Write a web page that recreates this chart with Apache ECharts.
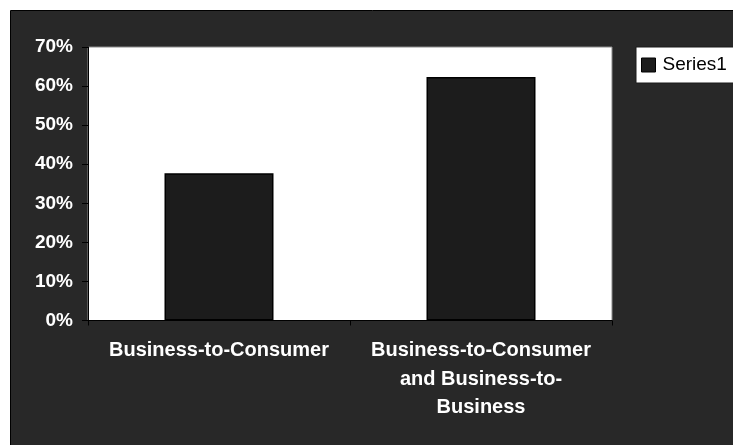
<!DOCTYPE html>
<html>
<head>
<meta charset="utf-8">
<script src="https://cdn.jsdelivr.net/npm/echarts@6/dist/echarts.min.js"></script>
<style>
  html, body { margin: 0; padding: 0; background: #ffffff; }
  #chart { width: 733px; height: 445px; }
</style>
</head>
<body>
<div id="chart"></div>
<script>
// Data
var categories = ['Business-to-Consumer', 'Business-to-Consumer and Business-to-Business'];
var categoryLabels = ['Business-to-Consumer', 'Business-to-Consumer\nand Business-to-\nBusiness'];
var seriesName = 'Series1';
var seriesValues = [37.7, 62.3];
var yTickLabels = ['0%', '10%', '20%', '30%', '40%', '50%', '60%', '70%'];

var chart = echarts.init(document.getElementById('chart'), null, { renderer: 'canvas' });

var option = {
  backgroundColor: '#ffffff',
  animation: false,
  graphic: [{
    type: 'rect',
    z: -10,
    silent: true,
    shape: { x: 10.5, y: 10.5, width: 740, height: 460 },
    style: { fill: '#282828', stroke: '#000000', lineWidth: 1 }
  }],
  legend: {
    show: true,
    left: 636,
    top: 47,
    orient: 'vertical',
    backgroundColor: '#ffffff',
    borderColor: '#1a1a1a',
    borderWidth: 1,
    padding: [8, 20, 8, 5],
    itemWidth: 14,
    itemHeight: 14,
    icon: 'rect',
    textStyle: { color: '#000000', fontFamily: 'Liberation Sans, Arial, sans-serif', fontSize: 19, lineHeight: 20, padding: [0, 0, 0, 2] },
    itemStyle: { borderColor: '#000000', borderWidth: 1 },
    data: [seriesName]
  },
  grid: {
    show: true,
    left: 88,
    top: 47,
    right: 121,
    bottom: 124.5,
    backgroundColor: '#ffffff',
    borderColor: '#8a8a8a',
    borderWidth: 1,
    containLabel: false
  },
  xAxis: {
    type: 'category',
    data: categories,
    boundaryGap: true,
    axisLine: { show: true, lineStyle: { color: '#000000', width: 1 } },
    axisTick: { show: true, alignWithLabel: false, interval: 0, length: 5, lineStyle: { color: '#000000' } },
    axisLabel: {
      interval: 0,
      margin: 16,
      color: '#ffffff',
      fontFamily: 'Liberation Sans, Arial, sans-serif',
      fontWeight: 'bold',
      fontSize: 20,
      lineHeight: 28.5,
      align: 'center',
      formatter: function (v, i) { return categoryLabels[i]; }
    },
    splitLine: { show: false }
  },
  yAxis: {
    type: 'value',
    min: 0,
    max: 70,
    interval: 10,
    axisLine: { show: true, lineStyle: { color: '#000000', width: 1 } },
    axisTick: { show: true, length: 6, lineStyle: { color: '#000000' } },
    axisLabel: {
      margin: 15,
      color: '#ffffff',
      fontFamily: 'Liberation Sans, Arial, sans-serif',
      fontWeight: 'bold',
      fontSize: 19,
      formatter: function (v) { return yTickLabels[Math.round(v / 10)]; }
    },
    splitLine: { show: false }
  },
  series: [{
    name: seriesName,
    type: 'bar',
    data: seriesValues,
    barWidth: 109,
    itemStyle: { color: '#1c1c1c', borderColor: '#000000', borderWidth: 1.5 }
  }]
};

chart.setOption(option);
</script>
</body>
</html>
